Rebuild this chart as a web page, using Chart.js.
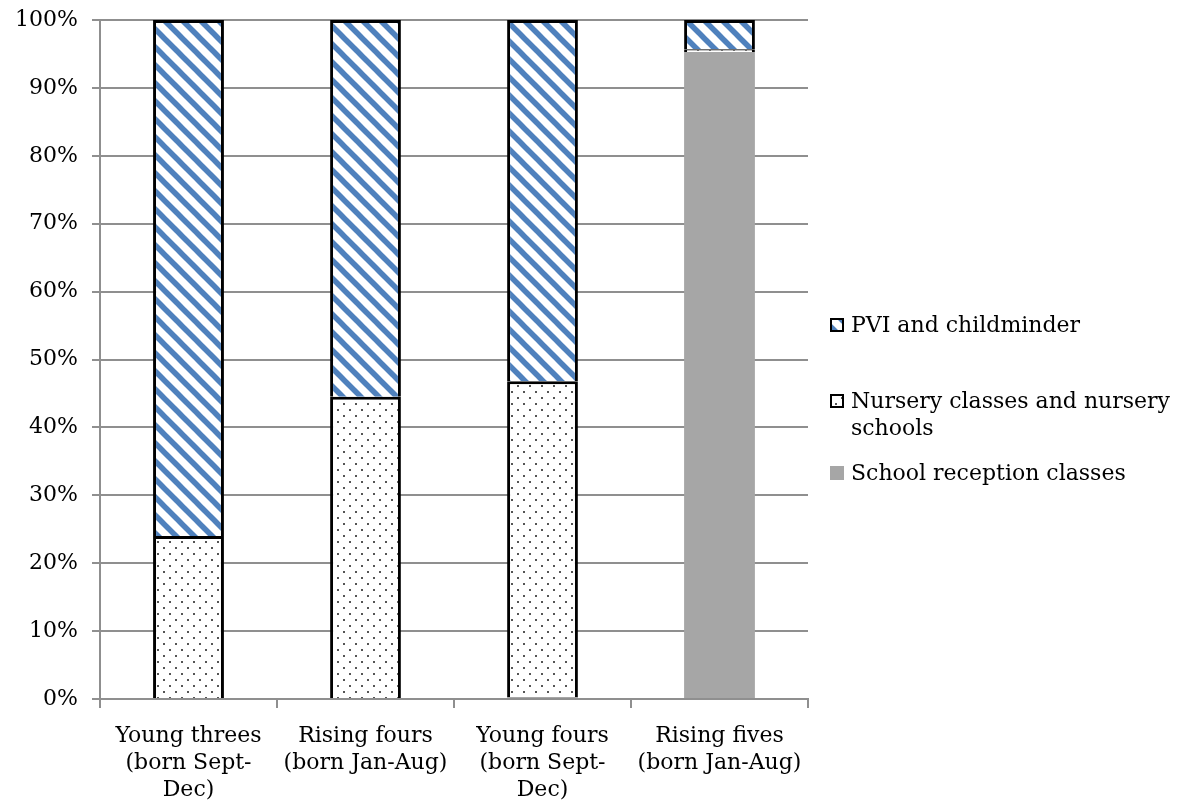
<!DOCTYPE html>
<html>
<head>
<meta charset="utf-8">
<script src="https://cdn.jsdelivr.net/npm/chart.js@4.4.1/dist/chart.umd.min.js"></script>
<style>
  html, body { margin: 0; padding: 0; background: #fff; }
  #wrap { position: relative; width: 1203px; height: 812px; }
</style>
</head>
<body>
<div id="wrap"><canvas id="chartSetting"></canvas></div>
<script>
// Categorias (rótulos do eixo X, em várias linhas)
const categories = [
  ['Young threes', '(born Sept-', 'Dec)'],
  ['Rising fours', '(born Jan-Aug)'],
  ['Young fours', '(born Sept-', 'Dec)'],
  ['Rising fives', '(born Jan-Aug)']
];
// Percentuais por tipo de oferta (de baixo para cima na pilha)
const receptionValues = [0, 0, 0.3, 95.3];
const nurseryValues = [24, 44.5, 46.5, 0.4];
const pviValues = [76, 55.5, 53.2, 4.3];
// Rótulos do eixo Y
const yTicks = [0, 10, 20, 30, 40, 50, 60, 70, 80, 90, 100];

const FONT = 'DejaVu Serif';
const GRID = '#8f8f8f';

// Padrão listrado azul (diagonal descendente)
function makeHatch() {
  const p = 18;
  const c = document.createElement('canvas');
  c.width = p; c.height = p;
  const g = c.getContext('2d');
  g.fillStyle = '#fff';
  g.fillRect(0, 0, p, p);
  g.strokeStyle = '#4f81bd';
  g.lineWidth = 5.5;
  for (let k = -1; k <= 1; k++) {
    g.beginPath();
    g.moveTo(-3, k * p - 3);
    g.lineTo(p + 3, k * p + p + 3);
    g.stroke();
  }
  return g.createPattern(c, 'repeat');
}

// Padrão pontilhado cinza
function makeDots() {
  const s = 12;
  const c = document.createElement('canvas');
  c.width = s; c.height = s;
  const g = c.getContext('2d');
  g.fillStyle = '#fff';
  g.fillRect(0, 0, s, s);
  g.fillStyle = '#555';
  g.fillRect(1, 1, 2, 2);
  g.fillRect(7, 7, 2, 2);
  return g.createPattern(c, 'repeat');
}

const ctxSetting = document.getElementById('chartSetting').getContext('2d');
const hatch = makeHatch();
const dots = makeDots();

// Legenda lateral desenhada à mão (o Chart.js não quebra linhas na legenda)
const legendItems = [
  { text: ['PVI and childminder'], fill: hatch, border: true, y: 325 },
  { text: ['Nursery classes and nursery', 'schools'], fill: dots, border: true, y: 401 },
  { text: ['School reception classes'], fill: '#a6a6a6', border: false, y: 473 }
];

const sideLegend = {
  id: 'sideLegend',
  afterDraw(chart) {
    const ctx = chart.ctx;
    ctx.save();
    ctx.font = '22px "' + FONT + '"';
    ctx.textBaseline = 'middle';
    legendItems.forEach(item => {
      const x = 830, size = 14;
      ctx.fillStyle = item.fill;
      ctx.fillRect(x, item.y - size / 2, size, size);
      if (item.border) {
        ctx.strokeStyle = '#000';
        ctx.lineWidth = 2;
        ctx.strokeRect(x + 1, item.y - size / 2 + 1, size - 2, size - 2);
      }
      ctx.fillStyle = '#000';
      item.text.forEach((line, i) => ctx.fillText(line, 851, item.y + 1 + i * 27));
    });
    ctx.restore();
  }
};

const dataSetting = {
  labels: categories,
  datasets: [
    {
      label: 'School reception classes',
      data: receptionValues,
      backgroundColor: '#a6a6a6',
      borderWidth: 0
    },
    {
      label: 'Nursery classes and nursery schools',
      data: nurseryValues,
      backgroundColor: dots,
      borderColor: '#000',
      borderWidth: 3
    },
    {
      label: 'PVI and childminder',
      data: pviValues,
      backgroundColor: hatch,
      borderColor: '#000',
      borderWidth: 3
    }
  ]
};

const configSetting = {
  type: 'bar',
  data: dataSetting,
  options: {
    responsive: true,
    maintainAspectRatio: false,
    animation: false,
    layout: { padding: { top: 20, right: 395, bottom: 0, left: 0 } },
    datasets: { bar: { barPercentage: 1, categoryPercentage: 0.4 } },
    plugins: { legend: { display: false }, tooltip: { enabled: false } },
    scales: {
      x: {
        stacked: true,
        grid: { offset: true, drawOnChartArea: false, color: GRID, lineWidth: 2, tickLength: 9 },
        border: { color: GRID, width: 2 },
        ticks: {
          color: '#000',
          maxRotation: 0,
          padding: 15,
          font: { family: FONT, size: 22, lineHeight: 1.22 }
        },
        afterFit: (scale) => { scale.height = 113; }
      },
      y: {
        stacked: true,
        min: 0,
        max: 100,
        afterBuildTicks: (scale) => { scale.ticks = yTicks.map(v => ({ value: v })); },
        grid: { color: GRID, lineWidth: 2, tickLength: 8 },
        border: { color: GRID, width: 2 },
        ticks: {
          color: '#000',
          padding: 14,
          font: { family: FONT, size: 22 },
          callback: (v) => v + '%'
        },
        afterFit: (scale) => {
          scale.width = 100;
          scale.paddingTop = 0;
          scale.paddingBottom = 0;
        }
      }
    }
  },
  plugins: [sideLegend]
};

new Chart(ctxSetting, configSetting);
</script>
</body>
</html>
